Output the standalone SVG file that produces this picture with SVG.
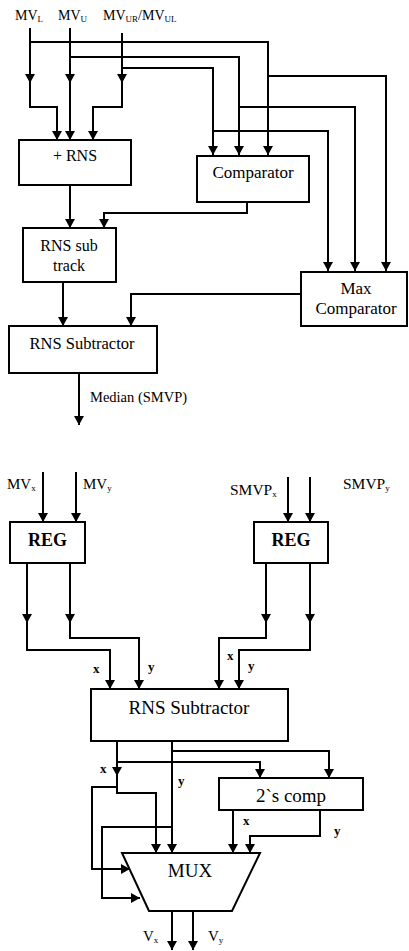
<svg xmlns="http://www.w3.org/2000/svg" width="409" height="951" viewBox="0 0 409 951">
<defs>
<marker id="ah" markerUnits="userSpaceOnUse" markerWidth="10" markerHeight="10" refX="9" refY="5" orient="auto">
<path d="M0,0 L9,5 L0,10 z" fill="#000"/>
</marker>
<style>
.w{fill:none;stroke:#000;stroke-width:2}
.a{marker-end:url(#ah)}
.b{fill:#fff;stroke:#000;stroke-width:2}
text{font-family:"Liberation Serif","Times New Roman",serif;fill:#000}
.c{text-anchor:middle}
.lb{font-size:14px}
.sm{font-size:9px}
.bl{font-weight:bold;font-size:13px}
</style>
</defs>
<g id="connectors">
<path class="w a" d="M30,28 V83"/>
<path class="w a" d="M30,83 V107 H57 V140"/>
<path class="w a" d="M30,42 H268 V155"/>
<path class="w a" d="M268,76 H386 V271"/>
<path class="w a" d="M70,28 V83"/>
<path class="w a" d="M70,83 V140"/>
<path class="w a" d="M70,57 H239 V155"/>
<path class="w a" d="M239,107 H355 V271"/>
<path class="w a" d="M122,33 V83"/>
<path class="w a" d="M122,83 V107 H93 V140"/>
<path class="w a" d="M122,68 H213 V155"/>
<path class="w a" d="M213,131 H328 V271"/>
<path class="w a" d="M247,202 V213 H104 V228"/>
<path class="w a" d="M70,185 V228"/>
<path class="w a" d="M63,282 V326"/>
<path class="w a" d="M301,294 H131 V326"/>
<path class="w a" d="M79,373 V425"/>
<path class="w a" d="M43,472 V522"/>
<path class="w a" d="M76,472 V522"/>
<path class="w a" d="M288,477 V522"/>
<path class="w a" d="M310,477 V522"/>
<path class="w a" d="M27,563 V623"/>
<path class="w a" d="M27,623 V650 H110 V689"/>
<path class="w a" d="M70,563 V623"/>
<path class="w a" d="M70,623 V638 H139 V689"/>
<path class="w a" d="M266,563 V623"/>
<path class="w a" d="M266,623 V638 H219 V689"/>
<path class="w a" d="M310,563 V623"/>
<path class="w a" d="M310,623 V650 H239 V689"/>
<path class="w a" d="M117,741 V776"/>
<path class="w a" d="M117,776 V793 H156 V853"/>
<path class="w a" d="M117,787 H92 V869 H130"/>
<path class="w a" d="M117,762 H260 V778"/>
<path class="w a" d="M172,741 V853"/>
<path class="w a" d="M172,751 H329 V778"/>
<path class="w a" d="M172,827 H102 V898 H140"/>
<path class="w a" d="M233,810 V853"/>
<path class="w a" d="M320,810 V836 H250 V853"/>
<path class="w a" d="M172,911 V950"/>
<path class="w a" d="M193,911 V950"/>
</g>
<g id="labels">
<text class="lb" x="15" y="20">MV<tspan class="sm" dy="2">L</tspan></text>
<text class="lb" x="58" y="20">MV<tspan class="sm" dy="2">U</tspan></text>
<text class="lb" x="103" y="20">MV<tspan class="sm" dy="2">UR</tspan><tspan dy="-2">/MV</tspan><tspan class="sm" dy="2">UL</tspan></text>
<text x="90" y="402" font-size="14.5">Median (SMVP)</text>
<text x="7" y="489" font-size="15">MV<tspan class="sm" dy="2">x</tspan></text>
<text x="83" y="489" font-size="15">MV<tspan class="sm" dy="2">y</tspan></text>
<text x="230" y="495" font-size="15.5">SMVP<tspan class="sm" dy="2">x</tspan></text>
<text x="343" y="489" font-size="15.5">SMVP<tspan class="sm" dy="2">y</tspan></text>
<text class="bl" x="93" y="673">x</text>
<text class="bl" x="148" y="671">y</text>
<text class="bl" x="227" y="660">x</text>
<text class="bl" x="248" y="670">y</text>
<text class="bl" x="100" y="773">x</text>
<text class="bl" x="178" y="785">y</text>
<text class="bl" x="243" y="825">x</text>
<text class="bl" x="334" y="835">y</text>
<text x="143" y="941" font-size="15">V<tspan class="sm" dy="2">x</tspan></text>
<text x="208" y="941" font-size="15">V<tspan class="sm" dy="2">y</tspan></text>
</g>
<g id="plus-rns"><rect class="b" x="19" y="140" width="112" height="45"/><text class="c" x="75" y="161" font-size="16">+ RNS</text></g>
<g id="comparator"><rect class="b" x="197" y="156" width="112" height="46"/><text class="c" x="253" y="178" font-size="17">Comparator</text></g>
<g id="rns-sub-track"><rect class="b" x="23" y="228" width="93" height="54"/><text class="c" x="69" y="251" font-size="16">RNS sub</text><text class="c" x="69" y="271" font-size="16">track</text></g>
<g id="max-comparator"><rect class="b" x="301" y="272" width="106" height="54"/><text class="c" x="356" y="294" font-size="17">Max</text><text class="c" x="356" y="314" font-size="17">Comparator</text></g>
<g id="rns-subtractor-top"><rect class="b" x="9" y="326" width="148" height="47"/><text class="c" x="82" y="349" font-size="16.5">RNS Subtractor</text></g>
<g id="reg-left"><rect class="b" x="10" y="522" width="75" height="41"/><text class="c" x="47.5" y="546" font-size="18" font-weight="bold">REG</text></g>
<g id="reg-right"><rect class="b" x="254" y="522" width="74" height="41"/><text class="c" x="291" y="546" font-size="18" font-weight="bold">REG</text></g>
<g id="rns-subtractor-bottom"><rect class="b" x="91" y="689" width="197" height="52"/><text class="c" x="189" y="714" font-size="19">RNS Subtractor</text></g>
<g id="twos-comp"><rect class="b" x="219" y="778" width="144" height="32"/><text class="c" x="291" y="802" font-size="19">2`s comp</text></g>
<g id="mux"><polygon class="b" points="122,853 260,853 232,911 149,911"/><text class="c" x="190" y="877" font-size="19">MUX</text></g>
</svg>
